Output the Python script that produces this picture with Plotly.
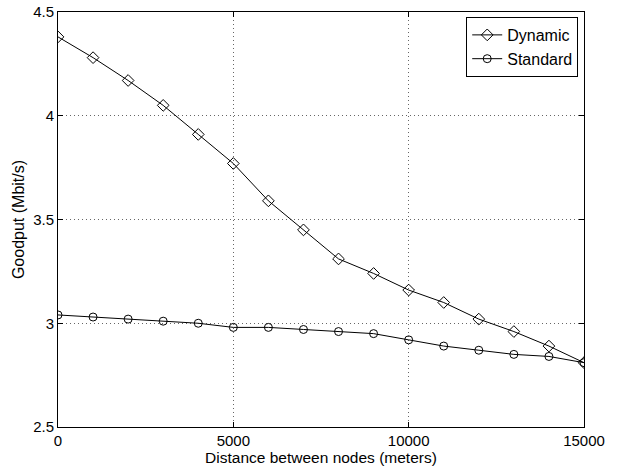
import plotly.graph_objects as go

distance = [0, 1000, 2000, 3000, 4000, 5000, 6000, 7000, 8000, 9000, 10000, 11000, 12000, 13000, 14000, 15000]
dynamic = [4.38, 4.28, 4.17, 4.05, 3.91, 3.77, 3.59, 3.45, 3.31, 3.24, 3.16, 3.10, 3.02, 2.96, 2.89, 2.81]
standard = [3.04, 3.03, 3.02, 3.01, 3.00, 2.98, 2.98, 2.97, 2.96, 2.95, 2.92, 2.89, 2.87, 2.85, 2.84, 2.81]
x_ticks = [0, 5000, 10000, 15000]
y_ticks = [2.5, 3, 3.5, 4, 4.5]

font = "Liberation Sans, Arial, Helvetica, sans-serif"

fig = go.Figure()
fig.add_trace(go.Scatter(x=distance, y=dynamic, name="Dynamic", mode="lines+markers",
                         line=dict(color="black", width=1),
                         marker=dict(symbol="diamond-open", size=9, color="black", line=dict(width=1))))
fig.add_trace(go.Scatter(x=distance, y=standard, name="Standard", mode="lines+markers",
                         line=dict(color="black", width=1),
                         marker=dict(symbol="circle-open", size=8, color="black", line=dict(width=1))))

axis_common = dict(showline=True, linecolor="black", linewidth=1, mirror="ticks",
                   ticks="inside", ticklen=5, tickcolor="black", automargin=False,
                   ticklabeloverflow="allow",
                   showgrid=True, gridcolor="#666666", griddash="1px,3px", gridwidth=1,
                   zeroline=False, tickfont=dict(family=font, size=15, color="black"))

fig.update_layout(
    width=618, height=466,
    margin=dict(l=58, r=34, t=12, b=39),
    paper_bgcolor="white", plot_bgcolor="white",
    font=dict(family=font, size=16, color="black"),
    showlegend=True,
    legend=dict(x=0.989, y=0.988, xanchor="right", yanchor="top",
                bordercolor="black", borderwidth=1, bgcolor="white",
                font=dict(family=font, size=16), tracegroupgap=0,
                itemwidth=30),
    xaxis=dict(range=[0, 15000], tickvals=x_ticks, ticktext=[str(v) for v in x_ticks],
               ticklabelstandoff=0,
               title=dict(text="Distance between nodes (meters)", standoff=3,
                          font=dict(family=font, size=15.5)), **axis_common),
    yaxis=dict(range=[2.5, 4.5], tickvals=y_ticks, ticktext=["2.5", "3", "3.5", "4", "4.5"],
               title=dict(text="Goodput (Mbit/s)", standoff=4,
                          font=dict(family=font, size=16)), **axis_common),
)

# remove the browser's default 8px body margin so the figure fills the window
fig.write_html("out.html", config={"displayModeBar": False},
               post_script="document.body.style.margin='0';document.body.style.overflow='hidden';")
